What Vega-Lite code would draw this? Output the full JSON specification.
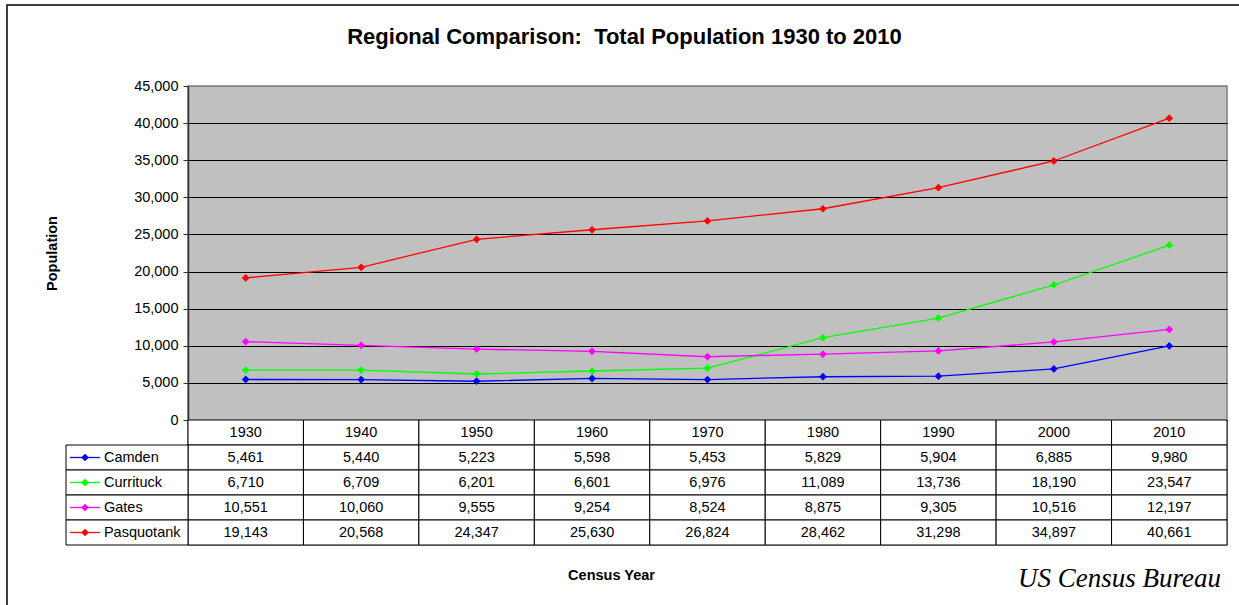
{
  "$schema": "https://vega.github.io/schema/vega-lite/v6.json",
  "width": 1039,
  "height": 459,
  "autosize": "none",
  "padding": {"left": 188, "top": 86, "right": 12, "bottom": 60},
  "background": "white",
  "title": {
    "text": "Regional Comparison:\u00a0 Total Population 1930 to 2010",
    "font": "Liberation Sans",
    "fontSize": 22,
    "fontWeight": "bold",
    "color": "black",
    "anchor": "middle",
    "frame": "group",
    "dx": -83,
    "offset": -45
  },
  "config": {
    "view": {"fill": "#c0c0c0", "stroke": "#808080", "strokeWidth": 1.5},
    "text": {"font": "Liberation Sans"}
  },
  "datasets": {
    "pop": [
      {"year": 1930, "county": "Camden", "population": 5461},
      {"year": 1940, "county": "Camden", "population": 5440},
      {"year": 1950, "county": "Camden", "population": 5223},
      {"year": 1960, "county": "Camden", "population": 5598},
      {"year": 1970, "county": "Camden", "population": 5453},
      {"year": 1980, "county": "Camden", "population": 5829},
      {"year": 1990, "county": "Camden", "population": 5904},
      {"year": 2000, "county": "Camden", "population": 6885},
      {"year": 2010, "county": "Camden", "population": 9980},
      {"year": 1930, "county": "Currituck", "population": 6710},
      {"year": 1940, "county": "Currituck", "population": 6709},
      {"year": 1950, "county": "Currituck", "population": 6201},
      {"year": 1960, "county": "Currituck", "population": 6601},
      {"year": 1970, "county": "Currituck", "population": 6976},
      {"year": 1980, "county": "Currituck", "population": 11089},
      {"year": 1990, "county": "Currituck", "population": 13736},
      {"year": 2000, "county": "Currituck", "population": 18190},
      {"year": 2010, "county": "Currituck", "population": 23547},
      {"year": 1930, "county": "Gates", "population": 10551},
      {"year": 1940, "county": "Gates", "population": 10060},
      {"year": 1950, "county": "Gates", "population": 9555},
      {"year": 1960, "county": "Gates", "population": 9254},
      {"year": 1970, "county": "Gates", "population": 8524},
      {"year": 1980, "county": "Gates", "population": 8875},
      {"year": 1990, "county": "Gates", "population": 9305},
      {"year": 2000, "county": "Gates", "population": 10516},
      {"year": 2010, "county": "Gates", "population": 12197},
      {"year": 1930, "county": "Pasquotank", "population": 19143},
      {"year": 1940, "county": "Pasquotank", "population": 20568},
      {"year": 1950, "county": "Pasquotank", "population": 24347},
      {"year": 1960, "county": "Pasquotank", "population": 25630},
      {"year": 1970, "county": "Pasquotank", "population": 26824},
      {"year": 1980, "county": "Pasquotank", "population": 28462},
      {"year": 1990, "county": "Pasquotank", "population": 31298},
      {"year": 2000, "county": "Pasquotank", "population": 34897},
      {"year": 2010, "county": "Pasquotank", "population": 40661}
    ]
  },
  "resolve": {
    "scale": {"x": "independent", "y": "independent"},
    "axis": {"x": "independent", "y": "independent"}
  },
  "layer": [
    {
      "data": {"name": "pop"},
      "encoding": {
        "x": {
          "field": "year", "type": "ordinal", "bandPosition": 0.5,
          "scale": {"type": "band", "paddingInner": 0, "paddingOuter": 0},
          "axis": null
        },
        "y": {
          "field": "population", "type": "quantitative",
          "scale": {"domain": [0, 45000], "range": [334, 0], "nice": false, "zero": false},
          "axis": {
            "title": "Population",
            "titleFont": "Liberation Sans",
            "titleFontSize": 14.5,
            "titleFontWeight": "bold",
            "titleColor": "black",
            "titleX": -136,
            "titleY": 167,
            "titleAngle": -90,
            "titleAlign": "center",
            "titleBaseline": "middle",
            "values": [0, 5000, 10000, 15000, 20000, 25000, 30000, 35000, 40000, 45000],
            "format": ",.0f",
            "labelFont": "Liberation Sans",
            "labelFontSize": 14.5,
            "labelColor": "black",
            "labelPadding": 5,
            "labelFlush": false,
            "labelOverlap": false,
            "tickSize": 5,
            "tickColor": "#333333",
            "domainColor": "#333333",
            "domainWidth": 1.5,
            "grid": true,
            "gridColor": {"condition": {"test": "datum.value >= 45000", "value": "#808080"}, "value": "black"},
            "gridWidth": 1,
            "gridOpacity": 1
          }
        },
        "color": {
          "field": "county", "type": "nominal",
          "scale": {"domain": ["Camden", "Currituck", "Gates", "Pasquotank"], "range": ["#0000ff", "#00ff00", "#ff00ff", "#ff0000"]},
          "legend": null
        }
      },
      "layer": [
        {"mark": {"type": "line", "strokeWidth": 1.3}},
        {"mark": {"type": "point", "shape": "diamond", "filled": true, "size": 60, "opacity": 1}}
      ]
    },
    {
      "data": {"name": "pop"},
      "encoding": {
        "x": {
          "field": "year", "type": "ordinal",
          "scale": {"type": "band", "paddingInner": 0, "paddingOuter": 0},
          "axis": {
            "title": "Census Year",
            "labels": false, "ticks": false, "domain": false, "grid": false,
            "titleFont": "Liberation Sans",
            "titleFontSize": 14.5,
            "titleFontWeight": "bold",
            "titleColor": "black",
            "titleX": 423,
            "titleY": 30,
            "titleAlign": "center",
            "titleBaseline": "middle"
          }
        }
      },
      "layer": [
        {
          "transform": [{"filter": "datum.county === 'Camden'"}],
          "mark": {"type": "rect", "fill": "white", "stroke": "black", "strokeWidth": 1},
          "encoding": {
            "y": {"datum": "year", "type": "nominal",
              "scale": {"type": "band", "domain": ["year", "Camden", "Currituck", "Gates", "Pasquotank", "gap", "footer"], "range": [334, 509], "paddingInner": 0, "paddingOuter": 0},
              "axis": null}
          }
        },
        {
          "mark": {"type": "rect", "fill": "white", "stroke": "black", "strokeWidth": 1},
          "encoding": {
            "y": {"field": "county", "type": "nominal"}
          }
        },
        {
          "transform": [{"filter": "datum.county === 'Camden'"}],
          "mark": {"type": "text", "fontSize": 14.5, "color": "black", "baseline": "middle", "align": "center"},
          "encoding": {
            "x": {"field": "year", "type": "ordinal", "bandPosition": 0.5},
            "y": {"datum": "year", "type": "nominal", "bandPosition": 0.5},
            "text": {"field": "year", "type": "nominal"}
          }
        },
        {
          "mark": {"type": "text", "fontSize": 14.5, "color": "black", "baseline": "middle", "align": "center"},
          "encoding": {
            "x": {"field": "year", "type": "ordinal", "bandPosition": 0.5},
            "y": {"field": "county", "type": "nominal", "bandPosition": 0.5},
            "text": {"field": "population", "type": "quantitative", "format": ","}
          }
        },
        {
          "data": {"values": [{"label": "US Census Bureau"}]},
          "mark": {"type": "text", "font": "Liberation Serif", "fontStyle": "italic", "fontSize": 27, "color": "black", "align": "right", "baseline": "middle", "dx": -6, "dy": -4},
          "encoding": {
            "x": {"datum": 2010, "type": "ordinal", "bandPosition": 1},
            "y": {"datum": "footer", "type": "nominal", "bandPosition": 0.5},
            "text": {"field": "label", "type": "nominal"}
          }
        }
      ]
    },
    {
      "data": {"name": "pop"},
      "transform": [{"filter": "datum.year === 1930"}],
      "layer": [
        {
          "mark": {"type": "rect", "fill": "white", "stroke": "black", "strokeWidth": 1},
          "encoding": {
            "x": {"datum": 0, "type": "quantitative", "scale": {"domain": [0, 1], "range": [-122, 0], "nice": false, "zero": false}, "axis": null},
            "x2": {"datum": 1},
            "y": {"field": "county", "type": "nominal",
              "scale": {"type": "band", "domain": ["year", "Camden", "Currituck", "Gates", "Pasquotank", "gap", "footer"], "range": [334, 509], "paddingInner": 0, "paddingOuter": 0},
              "axis": null}
          }
        },
        {
          "mark": {"type": "rule", "strokeWidth": 1.3},
          "encoding": {
            "x": {"datum": 0.033, "type": "quantitative"},
            "x2": {"datum": 0.279},
            "y": {"field": "county", "type": "nominal", "bandPosition": 0.5},
            "color": {"field": "county", "type": "nominal", "legend": null}
          }
        },
        {
          "mark": {"type": "point", "shape": "diamond", "filled": true, "size": 60, "opacity": 1},
          "encoding": {
            "x": {"datum": 0.156, "type": "quantitative"},
            "y": {"field": "county", "type": "nominal", "bandPosition": 0.5},
            "color": {"field": "county", "type": "nominal", "legend": null}
          }
        },
        {
          "mark": {"type": "text", "fontSize": 14.5, "color": "black", "align": "left", "baseline": "middle"},
          "encoding": {
            "x": {"datum": 0.311, "type": "quantitative"},
            "y": {"field": "county", "type": "nominal", "bandPosition": 0.5},
            "text": {"field": "county", "type": "nominal"}
          }
        }
      ]
    },
    {
      "data": {"values": [{}]},
      "mark": {"type": "rect", "fill": "transparent", "stroke": "black", "strokeWidth": 1.5},
      "encoding": {
        "x": {"datum": 0, "type": "quantitative", "scale": {"domain": [0, 1], "range": [-181, 1060], "nice": false, "zero": false}, "axis": null},
        "x2": {"datum": 1},
        "y": {"datum": 0, "type": "quantitative", "scale": {"domain": [0, 1], "range": [-81, 530], "nice": false, "zero": false}, "axis": null},
        "y2": {"datum": 1}
      }
    }
  ]
}
